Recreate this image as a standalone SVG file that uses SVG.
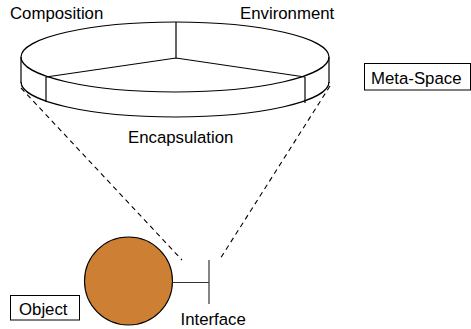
<svg xmlns="http://www.w3.org/2000/svg" width="471" height="329" viewBox="0 0 471 329">
<style>
text{font-family:"Liberation Sans",Arial,sans-serif;font-size:16.8px;fill:#000}
.ln{fill:none;stroke:#000;stroke-width:1.2}
.dash{fill:none;stroke:#000;stroke-width:1.1;stroke-dasharray:5 4}
.box{fill:#fff;stroke:#000;stroke-width:1}
</style>
<rect width="471" height="329" fill="#fff"/>
<g id="meta-space-disc">
<path class="ln" d="M21,57 A154,35 0 0 1 329,57 A154,35 0 0 1 21,57 Z"/>
<path class="ln" d="M21,82 A154,35 0 0 0 329,82"/>
<line class="ln" x1="21" y1="57" x2="21" y2="83"/>
<line class="ln" x1="329" y1="57" x2="329" y2="83"/>
<line class="ln" x1="46" y1="77" x2="46" y2="102"/>
<line class="ln" x1="305" y1="77" x2="305" y2="103"/>
<polyline class="ln" points="46,77 176,58 305,77"/>
<line class="ln" x1="176" y1="22" x2="176" y2="58"/>
<text x="10" y="18.5">Composition</text>
<text x="240" y="19">Environment</text>
<text x="128" y="142.5">Encapsulation</text>
</g>
<g id="meta-space-label">
<rect class="box" x="364.5" y="63.5" width="106" height="26.5"/>
<text x="371" y="84">Meta-Space</text>
</g>
<g id="connectors">
<line class="dash" x1="21" y1="88" x2="182" y2="260"/>
<line class="dash" x1="330" y1="86" x2="220" y2="259"/>
</g>
<g id="object">
<circle cx="128.5" cy="281" r="44" fill="#CD8033" stroke="#000" stroke-width="1.1"/>
</g>
<g id="interface">
<line x1="172.5" y1="282.5" x2="209" y2="282.5" stroke="#333" stroke-width="1.2"/>
<line x1="209" y1="260" x2="209" y2="304" stroke="#333" stroke-width="1.2"/>
<text x="180.5" y="325">Interface</text>
</g>
<g id="object-label">
<rect class="box" x="10.5" y="295.5" width="69" height="24.5"/>
<text x="19" y="315">Object</text>
</g>
</svg>
